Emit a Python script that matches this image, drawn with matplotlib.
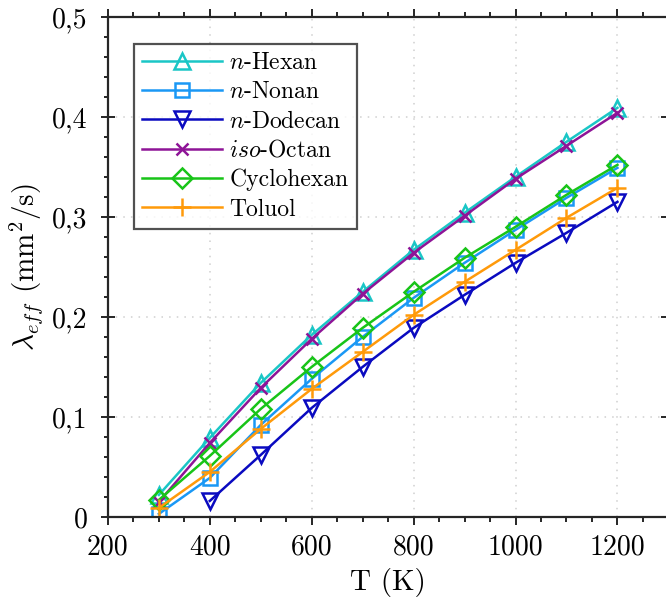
import matplotlib

matplotlib.use("Agg")
import matplotlib.pyplot as plt
from matplotlib.ticker import MultipleLocator

plt.rcParams["font.family"] = "serif"
plt.rcParams["font.serif"] = ["cmr10", "DejaVu Serif"]
plt.rcParams["mathtext.fontset"] = "cm"
plt.rcParams["axes.unicode_minus"] = False

# Effective thermal diffusivity (mm^2/s) over temperature (K)
temps = [300, 400, 500, 600, 700, 800, 900, 1000, 1100, 1200]
hexan = [0.022, 0.079, 0.134, 0.182, 0.225, 0.267, 0.304, 0.340, 0.375, 0.409]
nonan = [0.003, 0.039, 0.092, 0.138, 0.180, 0.219, 0.254, 0.287, 0.319, 0.349]
dodecan_temps = temps[1:]
dodecan = [0.016, 0.062, 0.109, 0.150, 0.189, 0.222, 0.254, 0.284, 0.315]
isooctan = [0.015, 0.074, 0.129, 0.178, 0.223, 0.264, 0.301, 0.338, 0.371, 0.404]
cyclohexan = [0.017, 0.061, 0.108, 0.150, 0.189, 0.225, 0.259, 0.290, 0.322, 0.352]
toluol = [0.009, 0.045, 0.088, 0.128, 0.165, 0.202, 0.235, 0.267, 0.299, 0.329]

y_ticks = [0, 0.1, 0.2, 0.3, 0.4, 0.5]
y_ticklabels = ["0", "0,1", "0,2", "0,3", "0,4", "0,5"]
x_ticks = [200, 400, 600, 800, 1000, 1200]

series = [
    (temps, hexan, r"$n$-Hexan", "#1AC6C6", "^"),
    (temps, nonan, r"$n$-Nonan", "#1A98F5", "s"),
    (dodecan_temps, dodecan, r"$n$-Dodecan", "#0A0AC0", "v"),
    (temps, isooctan, r"$iso$-Octan", "#8E1497", "x"),
    (temps, cyclohexan, "Cyclohexan", "#18C418", "D"),
    (temps, toluol, "Toluol", "#FF9A0A", "+"),
]
marker_size = {"^": 12, "v": 12, "s": 9.5, "D": 10, "x": 9, "+": 13}

fig = plt.figure(figsize=(6.66, 5.99), dpi=100)
# right edge (x = 1300) sits just past the figure border
ax = fig.add_axes([0.162, 0.137, 0.8416, 0.835])

for x, y, label, color, marker in series:
    ax.plot(x, y, color=color, lw=1.8, marker=marker, ms=marker_size[marker],
            mfc="none", mec=color, mew=1.8, label=label)

ax.set_xlim(200, 1300)
ax.set_ylim(0, 0.5)
ax.set_xticks(x_ticks)
ax.set_yticks(y_ticks)
ax.set_yticklabels(y_ticklabels)
ax.xaxis.set_minor_locator(MultipleLocator(50))
ax.yaxis.set_minor_locator(MultipleLocator(0.02))
ax.tick_params(which="both", top=True, right=True, labelsize=20,
               width=1.4, colors="#262626", labelcolor="black")
ax.tick_params(axis="x", which="major", direction="out", length=6, pad=6.5)
ax.tick_params(axis="x", which="minor", direction="out", length=3.5)
ax.tick_params(axis="y", which="major", direction="inout", length=10, pad=9.5)
ax.tick_params(axis="y", which="minor", direction="out", length=3)
for spine in ax.spines.values():
    spine.set_linewidth(1.6)
    spine.set_color("#262626")

ax.grid(True, which="major", ls=(0, (1, 4)), color="#cfcfcf", lw=1.1)
ax.set_axisbelow(True)

ax.set_xlabel("T (K)", fontsize=21, labelpad=5)
ax.set_ylabel(r"$\lambda_{eff}$ (mm$^2$/s)", fontsize=21, labelpad=5)

leg = ax.legend(loc="upper left", bbox_to_anchor=(0.046, 0.946), fontsize=17,
                frameon=True, fancybox=False, edgecolor="#262626",
                handlelength=3.4, borderpad=0.35, labelspacing=0.3,
                handletextpad=0.3, borderaxespad=0)
leg.get_frame().set_linewidth(1.6)

fig.savefig("out.png", dpi=100)
